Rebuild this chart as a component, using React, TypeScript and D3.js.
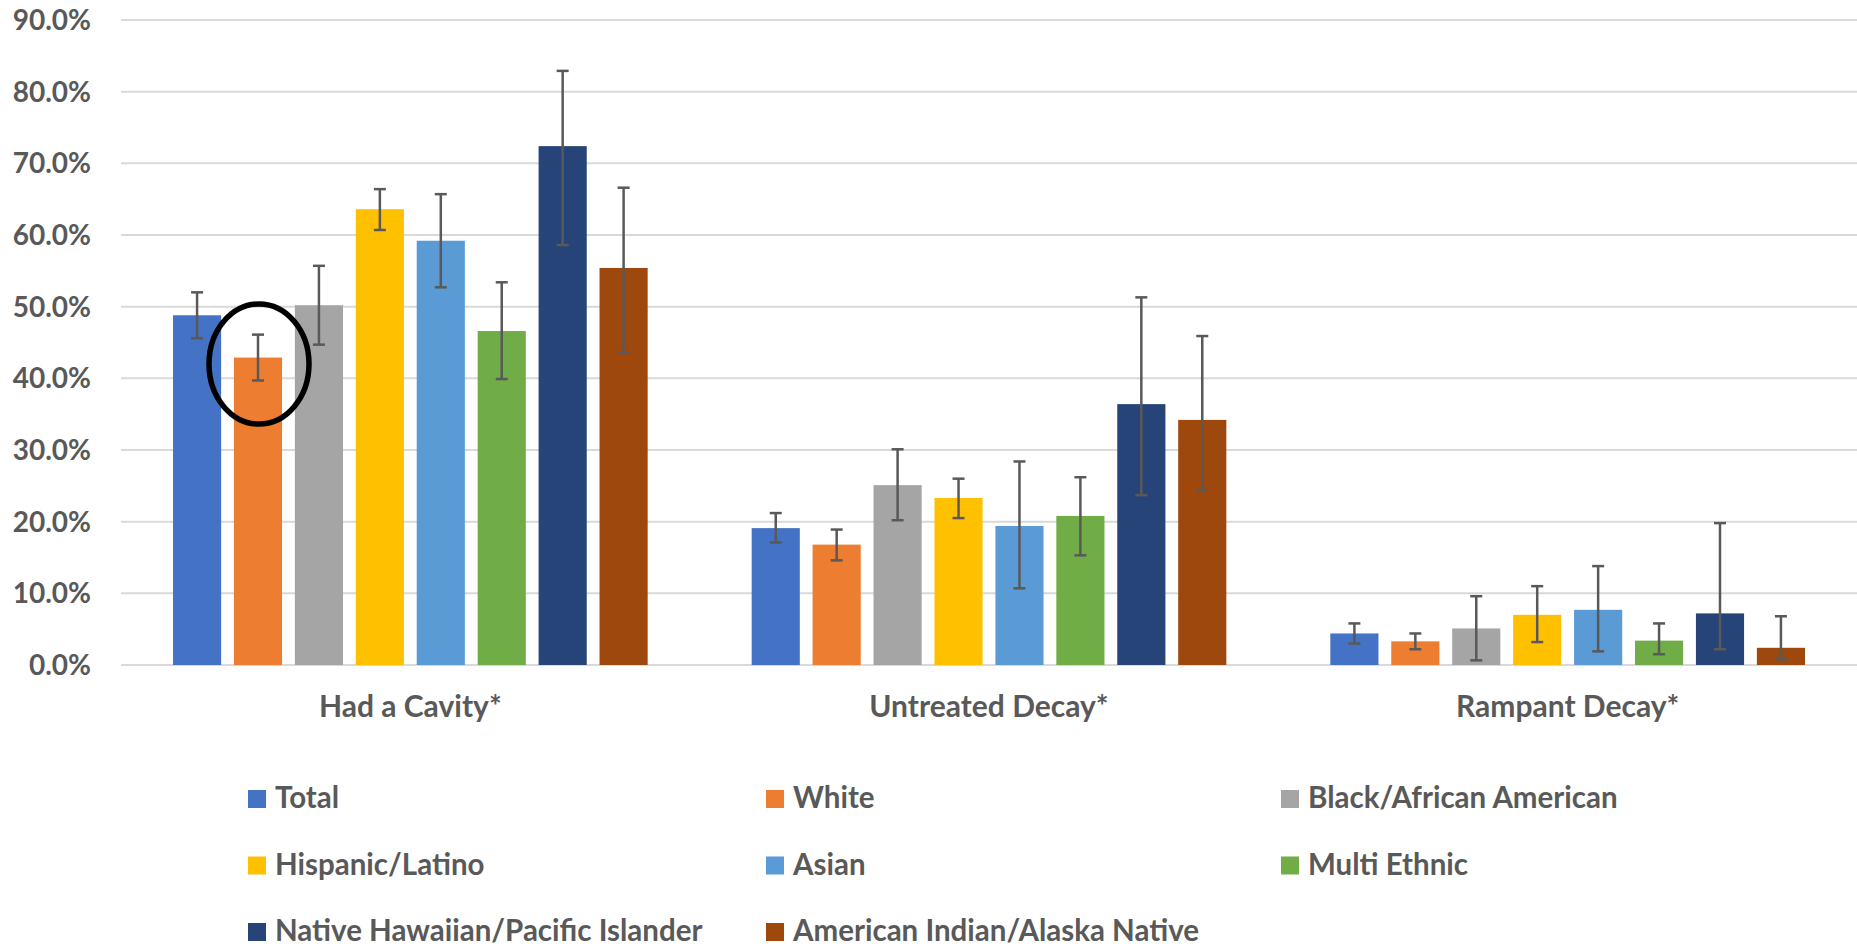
import React from "react";
import * as d3 from "d3";

const categories = ["Had a Cavity*", "Untreated Decay*", "Rampant Decay*"];
const series = [
  "Total",
  "White",
  "Black/African American",
  "Hispanic/Latino",
  "Asian",
  "Multi Ethnic",
  "Native Hawaiian/Pacific Islander",
  "American Indian/Alaska Native",
];
const colors = ["#4472C4", "#ED7D31", "#A5A5A5", "#FFC000", "#5B9BD5", "#70AD47", "#264478", "#9E480E"];

// values per series, per category [Had a Cavity, Untreated, Rampant]
const values = [
  [0.488, 0.191, 0.044],
  [0.429, 0.168, 0.033],
  [0.502, 0.251, 0.051],
  [0.636, 0.233, 0.070],
  [0.592, 0.194, 0.077],
  [0.466, 0.208, 0.034],
  [0.724, 0.364, 0.072],
  [0.554, 0.342, 0.024],
];
const errLow = [
  [0.456, 0.171, 0.030],
  [0.397, 0.146, 0.022],
  [0.447, 0.202, 0.0065],
  [0.607, 0.205, 0.032],
  [0.527, 0.107, 0.019],
  [0.399, 0.153, 0.015],
  [0.586, 0.237, 0.022],
  [0.436, 0.243, 0.008],
];
const errHigh = [
  [0.520, 0.212, 0.058],
  [0.461, 0.189, 0.044],
  [0.557, 0.301, 0.096],
  [0.664, 0.260, 0.110],
  [0.657, 0.284, 0.138],
  [0.534, 0.262, 0.058],
  [0.829, 0.513, 0.198],
  [0.666, 0.459, 0.068],
];
const yTicks = [0, 0.1, 0.2, 0.3, 0.4, 0.5, 0.6, 0.7, 0.8, 0.9];

const W = 1857;
const H = 948;
const FONT = "Lato, 'Open Sans', sans-serif";
const TEXT = "#595959";

export default function App() {
  const x0 = d3.scaleBand<string>().domain(categories).range([121, W]).padding(0);
  const cw = x0.bandwidth();
  const x1 = d3.scaleBand<string>().domain(series).range([52, cw - 52]).paddingInner(0.21).paddingOuter(0);
  const y = d3.scaleLinear().domain([0, 0.9]).range([665, 20]);
  const fmt = d3.format(".1%");

  const legendCols = [248, 766, 1281];
  const legendRows = [799, 865.5, 932];

  const whiteX = (x0(categories[0]) as number) + (x1(series[1]) as number) + x1.bandwidth() / 2;

  return (
    <svg width={W} height={H} style={{ position: "absolute", left: 0, top: 0, background: "#fff" }} fontFamily={FONT}>
      <rect x={0} y={0} width={W} height={H} fill="#fff" />
      {yTicks.map((t) => (
        <g key={t}>
          <line x1={121} x2={W} y1={y(t)} y2={y(t)} stroke="#D9D9D9" strokeWidth={2} />
          <text x={91} y={y(t)} dy="0.36em" textAnchor="end" fontSize={28} fontWeight={700} fill={TEXT}>
            {fmt(t)}
          </text>
        </g>
      ))}
      {categories.map((c, ci) => (
        <g key={c} transform={`translate(${x0(c)},0)`}>
          {series.map((s, si) => {
            const bx = x1(s) as number;
            const v = values[si][ci];
            return (
              <rect key={s} x={bx} y={y(v)} width={x1.bandwidth()} height={y(0) - y(v)} fill={colors[si]} />
            );
          })}
          {series.map((s, si) => {
            const cx = (x1(s) as number) + x1.bandwidth() / 2;
            const lo = y(errLow[si][ci]);
            const hi = y(errHigh[si][ci]);
            return (
              <g key={s + "e"} stroke="#595959" strokeWidth={2.5}>
                <line x1={cx} x2={cx} y1={lo} y2={hi} />
                <line x1={cx - 6} x2={cx + 6} y1={lo} y2={lo} />
                <line x1={cx - 6} x2={cx + 6} y1={hi} y2={hi} />
              </g>
            );
          })}
          <text x={cw / 2} y={717} textAnchor="middle" fontSize={30} fontWeight={700} fill={TEXT}>
            {c}
          </text>
        </g>
      ))}
      <ellipse cx={whiteX + 1} cy={y(0.42)} rx={50} ry={60} fill="none" stroke="#000" strokeWidth={5.5} />
      {series.map((s, i) => {
        const lx = legendCols[i % 3];
        const ly = legendRows[Math.floor(i / 3)];
        return (
          <g key={s}>
            <rect x={lx} y={ly - 9} width={18} height={18} fill={colors[i]} />
            <text x={lx + 27} y={ly} dy="0.32em" fontSize={29.5} fontWeight={700} fill={TEXT}>
              {s}
            </text>
          </g>
        );
      })}
    </svg>
  );
}
